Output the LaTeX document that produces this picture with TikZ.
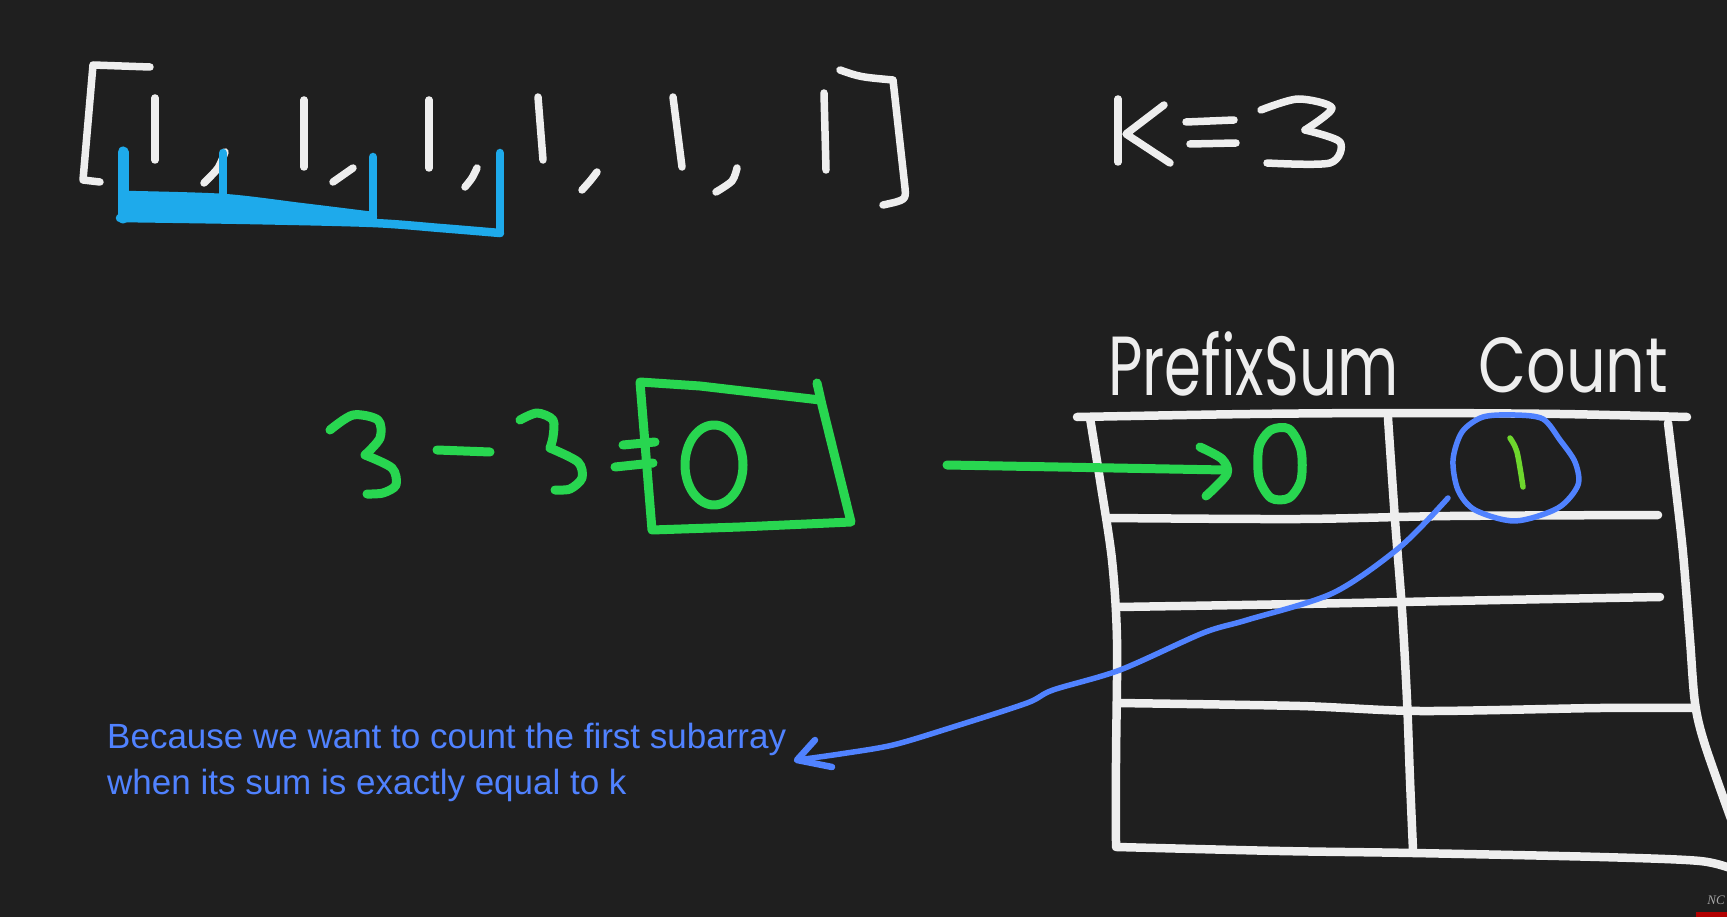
\documentclass[tikz,border=0pt]{standalone}
\usepackage{fontspec}
\usepackage{graphicx}
\setmainfont{Liberation Sans}
\newfontfamily\handfont{Poppins}
\newfontfamily\logofont{Liberation Serif}
\definecolor{bgc}{RGB}{31,31,31}
\definecolor{chalk}{RGB}{238,238,238}
\definecolor{grn}{RGB}{40,214,80}
\definecolor{lgrn}{RGB}{110,215,45}
\definecolor{lblue}{RGB}{30,170,235}
\definecolor{nblue}{RGB}{80,130,255}
\begin{document}
\begin{tikzpicture}[x=1pt,y=-1pt,line cap=round,line join=round,
  chalkpen/.style={draw=chalk,line width=7.5pt},
  tablepen/.style={draw=chalk,line width=8.5pt},
  greenpen/.style={draw=grn,line width=9pt},
  bracepen/.style={draw=lblue,line width=8.5pt},
  bluepen/.style={draw=nblue,line width=5.5pt},
  label/.style={inner sep=0pt,text=chalk},
  note/.style={inner sep=0pt,anchor=base west,text=nblue,font=\fontsize{35}{42}\selectfont}]
\fill[bgc] (0,0) rectangle (1727,917);
\useasboundingbox (0,0) rectangle (1727,917);

% ---- array [1, 1, 1, 1, 1, 1]
\draw[chalkpen] (150,67) -- (93,65) -- (83,180) -- (100,182);
\draw[chalkpen] (155,98) -- (155,160);
\draw[chalkpen] (304,100) -- (304,167);
\draw[chalkpen] (429,100) -- (429,168);
\draw[chalkpen] (538,97) -- (543,160);
\draw[chalkpen] (673,97) -- (682,167);
\draw[chalkpen] (824,93) -- (826,170);
\draw[chalkpen] plot[smooth] coordinates {(225,152) (218,168) (204,183)};
\draw[chalkpen] plot[smooth] coordinates {(353,168) (343,175) (333,182)};
\draw[chalkpen] plot[smooth] coordinates {(477,168) (472,178) (465,187)};
\draw[chalkpen] plot[smooth] coordinates {(597,172) (590,181) (582,190)};
\draw[chalkpen] plot[smooth] coordinates {(737,168) (732,181) (716,192)};
\draw[chalkpen] (840,70) .. controls (860,77) .. (893,80) -- (905,188) .. controls (906,200) .. (883,205);

% ---- light blue brace
\fill[lblue] (123,193) -- (223,196) -- (300,205) -- (373,214) -- (373,223) -- (250,221) -- (120,219) -- cycle;
\draw[bracepen,line width=11pt] (123,152) -- (123,218);
\draw[bracepen] (223,153) -- (223,198);
\draw[bracepen] (373,157) -- (373,220);
\draw[bracepen] (500,153) -- (500,233);
\draw[bracepen] plot[smooth] coordinates {(123,195) (223,198) (300,207) (373,216)};
\draw[bracepen] plot[smooth] coordinates {(120,218) (250,220) (373,223) (440,228) (500,233)};

% ---- k = 3
\draw[chalkpen] (1118,99) -- (1118,162);
\draw[chalkpen] (1164,105) -- (1126,134) -- (1170,163);
\draw[chalkpen] (1186,122) -- (1234,120);
\draw[chalkpen] (1190,144) -- (1236,143);
\draw[chalkpen] plot[smooth] coordinates {(1261,110) (1298,99) (1332,108) (1305,130)};
\draw[chalkpen] plot[smooth] coordinates {(1305,130) (1340,142) (1330,163) (1267,163)};

% ---- 3 - 3 = [0]
\draw[greenpen] plot[smooth] coordinates {(330,430) (353,415) (378,420) (380,438) (365,455)};
\draw[greenpen] plot[smooth] coordinates {(365,455) (392,468) (396,485) (383,493) (367,494)};
\draw[greenpen] (437,450) -- (490,452);
\draw[greenpen] plot[smooth] coordinates {(520,420) (537,413) (553,420) (553,437) (550,448)};
\draw[greenpen] plot[smooth] coordinates {(550,448) (578,462) (582,478) (570,489) (555,490)};
\draw[greenpen] (623,445) -- (655,442);
\draw[greenpen] (615,467) -- (653,463);
\draw[greenpen] (817,383) -- (822,405) -- (851,522) -- (740,527) -- (652,530) -- (640,382) -- (700,386) -- (820,400);
\draw[greenpen] (714,465) ellipse [x radius=29pt, y radius=40pt];

% ---- table
\draw[tablepen] plot[smooth] coordinates {(1077,417) (1250,414) (1400,413) (1560,414) (1687,417)};
\draw[tablepen] plot[smooth] coordinates {(1090,418) (1100,480) (1112,560) (1117,640) (1116,760) (1116,847)};
\draw[tablepen] plot[smooth] coordinates {(1388,418) (1395,520) (1402,610) (1407,700) (1410,780) (1413,850)};
\draw[tablepen] plot[smooth] coordinates {(1668,423) (1676,490) (1683,553) (1690,640) (1695,703) (1705,745) (1735,830)};
\draw[tablepen] plot[smooth] coordinates {(1108,518) (1300,519) (1450,516) (1658,515)};
\draw[tablepen] plot[smooth] coordinates {(1118,607) (1300,604) (1500,600) (1660,597)};
\draw[tablepen] plot[smooth] coordinates {(1117,703) (1300,706) (1420,711) (1600,708) (1695,708)};
\draw[tablepen] plot[smooth] coordinates {(1117,847) (1280,851) (1413,853) (1600,857) (1700,861) (1735,870)};

\node[label,anchor=base west] (hdrPrefix) at (1108,395) {\resizebox{290pt}{64pt}{\handfont PrefixSum}};
\node[label,anchor=base west] (hdrCount) at (1478,392) {\resizebox{190pt}{55pt}{\handfont Count}};

% ---- green arrow into table
\coordinate (arrowStart) at (947,465);
\coordinate (arrowTip) at (1225,470);
\draw[greenpen] (arrowStart) -- (arrowTip);
\draw[greenpen] plot[smooth] coordinates {(1200,447) (1222,459) (1227,474) (1206,496)};
\draw[greenpen] plot[smooth cycle] coordinates {(1289,429) (1301,450) (1301,480) (1289,498) (1271,498) (1259,478) (1259,447) (1271,430)};

% ---- circled 1
\draw[lgrn,line width=5.5pt] plot[smooth] coordinates {(1510,438) (1517,452) (1523,487)};
\draw[bluepen] plot[smooth cycle] coordinates {(1543,419) (1515,415) (1483,417) (1462,432) (1453,460) (1458,490) (1475,510) (1515,521) (1558,508) (1578,485) (1575,462) (1560,440)};

% ---- blue explanation arrow
\node[note] (note1) at (107,748) {Because we want to count the first subarray};
\node[note] (note2) at (107,794) {when its sum is exactly equal to k};
\coordinate (circTail) at (1448,498);
\coordinate (noteTip) at (797,760);
\draw[bluepen] plot[smooth] coordinates {(circTail) (1400,547) (1333,593) (1247,620) (1203,633) (1120,670) (1053,690) (1027,703) (953,727) (893,745) (840,754) (noteTip)};
\draw[bluepen,line width=6.5pt] (815,740) -- (noteTip) -- (832,767);

% ---- logo
\node[inner sep=0pt,text=gray!70,font=\logofont\itshape\fontsize{13}{13}\selectfont] (logo) at (1716,900) {NC};
\fill[red!70!black] (1696,912) rectangle (1727,917);
\end{tikzpicture}
\end{document}
